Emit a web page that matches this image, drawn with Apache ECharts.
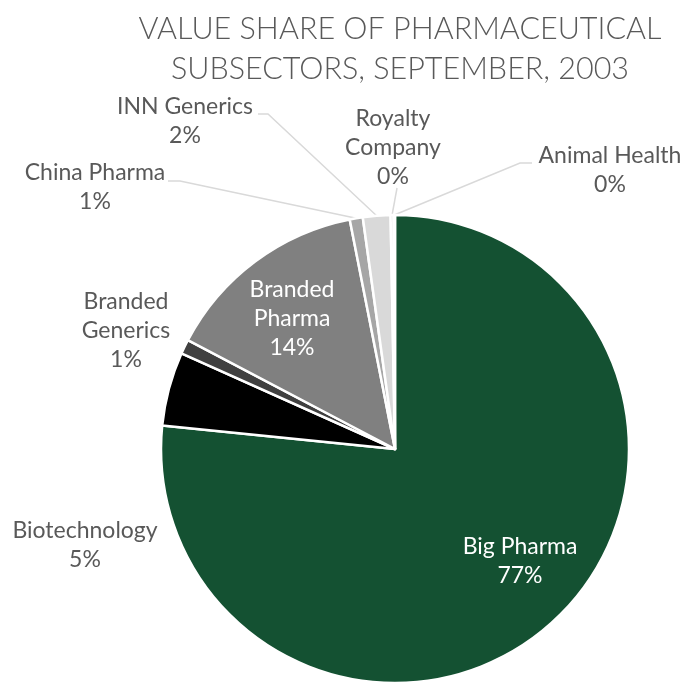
<!DOCTYPE html>
<html><head><meta charset="utf-8">
<script src="https://cdn.jsdelivr.net/npm/echarts@6/dist/echarts.min.js"></script>
<style>html,body{margin:0;padding:0;background:#fff}#c{width:685px;height:683px}</style>
</head><body><div id="c"></div>
<script>
const categories = ['Big Pharma','Biotechnology','Branded Generics','Branded Pharma','China Pharma','INN Generics','Royalty Company','Animal Health'];
const shares = [76.6, 5.1, 1.0, 14.2, 0.9, 1.9, 0.2, 0.1];
const labelNames = ['Big Pharma','Biotechnology','Branded\nGenerics','Branded\nPharma','China Pharma','INN Generics','Royalty\nCompany','Animal Health'];
const colors = ['#145132','#000000','#404040','#808080','#a6a6a6','#d9d9d9','#bfbfbf','#bfbfbf'];
const titleText = 'VALUE SHARE OF PHARMACEUTICAL\nSUBSECTORS, SEPTEMBER, 2003';

// label placement (layout only)
const labelPos = [
  {x:520, y:561, inside:true},
  {x:85, y:545},
  {x:126, y:331},
  {x:292, y:319, inside:true},
  {x:95, y:187, line:[[180,181],[168,181]]},
  {x:185, y:121, line:[[268,114],[258,114]]},
  {x:393, y:148, line:[[397,188]]},
  {x:610, y:170, line:[[520,163],[532,163]]}
];

const chart = echarts.init(document.getElementById('c'));
const FONT = 'Lato';
chart.setOption({
  animation:false,
  title:{text:titleText,left:395,textAlign:'center',top:4,
    textStyle:{fontFamily:FONT,fontWeight:300,fontSize:30.5,lineHeight:40,color:'#595959'}},
  series:[{
    type:'pie',
    center:[395,449],
    radius:[0,234],
    startAngle:90,
    clockwise:true,
    avoidLabelOverlap:false,
    itemStyle:{borderColor:'#fff',borderWidth:2.5},
    label:{show:true,position:'outside',fontFamily:FONT,fontSize:23,lineHeight:29,color:'#595959',
      align:'center',
      formatter:p=>labelNames[p.dataIndex]+'\n'+Math.round(p.value)+'%'},
    labelLine:{show:true,lineStyle:{color:'#d9d9d9',width:1.5},length:10,length2:10},
    labelLayout:function(params){
      const lp = labelPos[params.dataIndex];
      const res = {x:lp.x,y:lp.y,align:'center',verticalAlign:'middle'};
      if(lp.line && params.labelLinePoints){
        res.labelLinePoints = [params.labelLinePoints[0]].concat(lp.line);
      }
      return res;
    },
    data:categories.map((c,i)=>({
      name:c,value:shares[i],itemStyle:{color:colors[i]},
      label: labelPos[i].inside ? {color:'#ffffff'} : {},
      labelLine: labelPos[i].line ? {show:true} : {show:false}
    }))
  }]
});
</script></body></html>
